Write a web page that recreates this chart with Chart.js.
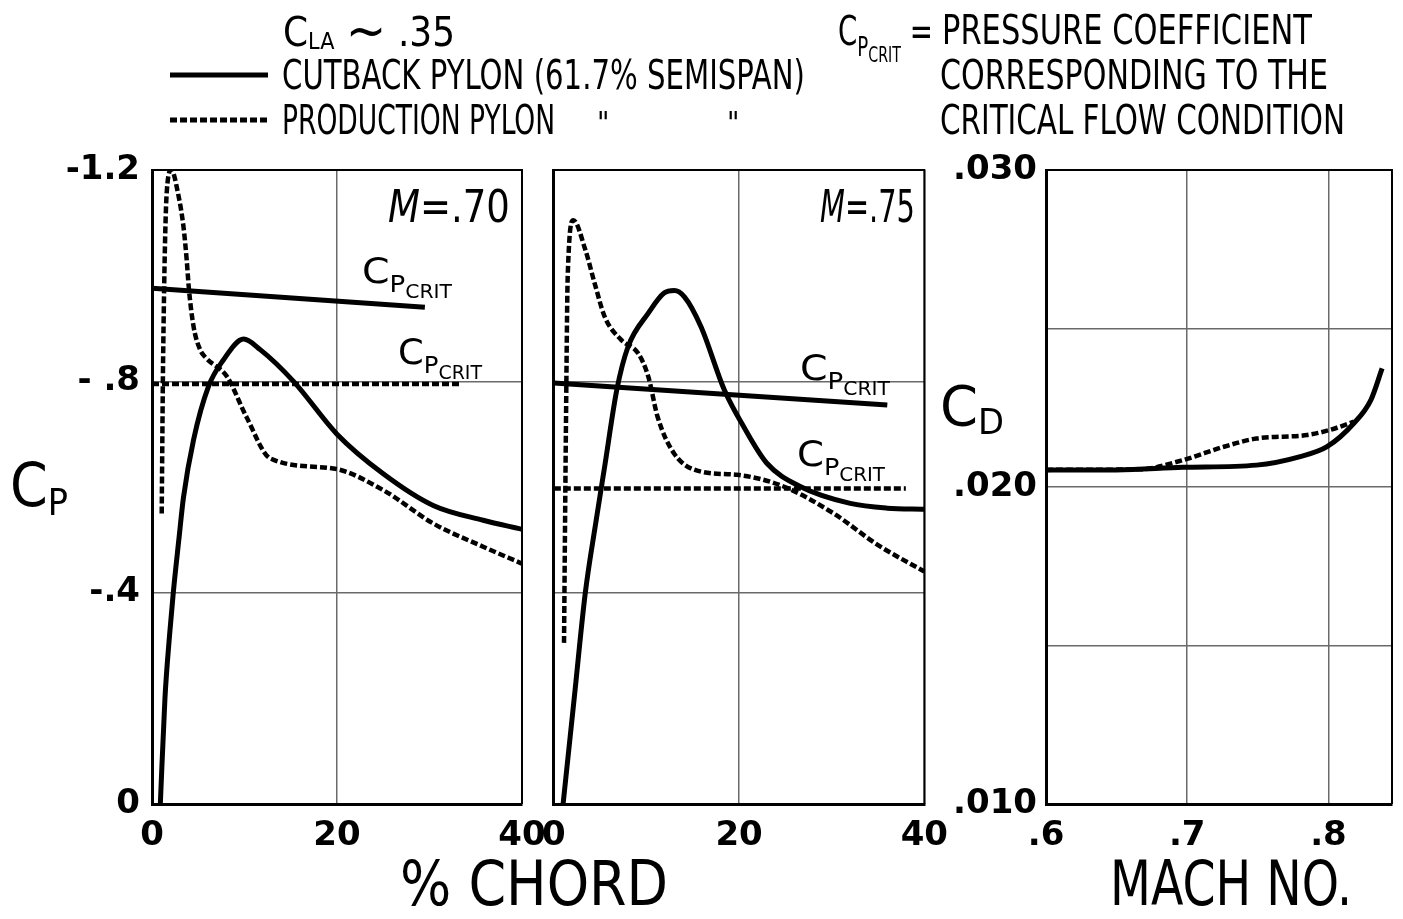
<!DOCTYPE html>
<html>
<head>
<meta charset="utf-8">
<script src="https://cdn.jsdelivr.net/npm/chart.js@4.4.1/dist/chart.umd.min.js"></script>
<style>
  body { margin: 0; background: #fff; width: 1403px; height: 919px; overflow: hidden; position: relative;
         font-family: "Liberation Sans Narrow", "DejaVu Sans Condensed", "Liberation Sans", sans-serif; color: #000; }
  canvas { position: absolute; }
  .t { position: absolute; white-space: nowrap; line-height: 1; transform-origin: 0 0; }
  .s1 { font-size: 0.66em; vertical-align: -0.4em; }
  .s2 { font-size: 0.78em; vertical-align: -0.3em; }
  .ax { font-size: 0.62em; vertical-align: -0.25em; }
  .la { font-size: 0.58em; vertical-align: -0.12em; }
  .tl { font-size: 1.35em; vertical-align: -0.05em; line-height: 0; }
  svg { position: absolute; left: 0; top: 0; }
</style>
</head>
<body>
<canvas id="chartA" width="560" height="750" style="left:0;top:130px"></canvas>
<canvas id="chartB" width="430" height="750" style="left:530px;top:130px"></canvas>
<canvas id="chartC" width="503" height="750" style="left:900px;top:130px"></canvas>
<svg width="1403" height="150">
  <line x1="170" y1="75" x2="268" y2="75" stroke="#000" stroke-width="5"/>
  <line x1="170" y1="120" x2="268" y2="120" stroke="#000" stroke-width="5" stroke-dasharray="7 3"/>
</svg>
<div id="labels"></div>
<script>
(function () {
    "use strict";

    // M = .70 panel
    const m70CutbackX = [0.9, 1.4, 1.9, 2.3, 2.9, 3.4, 4.5, 6.1, 7.7, 9.9, 11.7, 15.3, 20, 25, 30.4, 35.8, 40];
    const m70CutbackCp = [0, -0.2, -0.32, -0.4, -0.5, -0.58, -0.69, -0.79, -0.84, -0.88, -0.86, -0.8, -0.7, -0.625, -0.565, -0.537, -0.52];
    const m70ProductionX = [1.05, 1.2, 1.6, 2.1, 2.8, 3.4, 3.75, 4.0, 4.5, 5.2, 5.8, 8.1, 10.2, 12.8, 19.6, 25, 30.4, 35.8, 40];
    const m70ProductionCp = [-0.55, -0.84, -1.16, -1.2, -1.157, -1.093, -1.03, -0.973, -0.903, -0.86, -0.845, -0.809, -0.733, -0.654, -0.635, -0.594, -0.531, -0.487, -0.455];
    const m70CritCutbackX = [0, 29.5];
    const m70CritCutbackCp = [-0.976, -0.94];
    const m70CritProductionX = [0, 33.3];
    const m70CritProductionCp = [-0.795, -0.795];

    // M = .75 panel
    const m75CutbackX = [1.0, 2.2, 3.4, 4.6, 5.5, 6.8, 8.0, 10.2, 11.9, 13.0, 14.1, 15.9, 18.4, 20.5, 23, 26.6, 32, 36, 40];
    const m75CutbackCp = [0, -0.2, -0.4, -0.54, -0.64, -0.784, -0.865, -0.929, -0.967, -0.972, -0.96, -0.903, -0.784, -0.714, -0.645, -0.601, -0.569, -0.56, -0.558];
    const m75ProductionX = [1.1, 1.3, 1.5, 2.1, 3.4, 4.4, 5.5, 7.3, 9.1, 10.2, 11.2, 13, 15.9, 19.8, 24.8, 30.2, 35, 40];
    const m75ProductionCp = [-0.305, -0.7, -1.0, -1.105, -1.049, -0.986, -0.922, -0.878, -0.853, -0.809, -0.733, -0.663, -0.629, -0.623, -0.601, -0.55, -0.49, -0.44];
    const m75CritCutbackX = [0, 36];
    const m75CritCutbackCp = [-0.797, -0.755];
    const m75CritProductionX = [0, 38];
    const m75CritProductionCp = [-0.597, -0.597];

    // drag vs Mach
    const machCutback = [0.6, 0.65, 0.697, 0.749, 0.78, 0.799, 0.818, 0.83, 0.838];
    const cdCutback = [0.02054, 0.02054, 0.02062, 0.02069, 0.02096, 0.02127, 0.02201, 0.02274, 0.02374];
    const machProduction = [0.6, 0.667, 0.697, 0.726, 0.749, 0.785, 0.801, 0.818];
    const cdProduction = [0.02054, 0.02056, 0.02085, 0.02127, 0.02153, 0.02164, 0.0218, 0.02206];

    // ticks
    const chordTicks = [0, 20, 40];
    const chordTickLabels = ["0", "20", "40"];
    const cpTicks = [-1.2, -0.8, -0.4, 0];
    const cpTickLabels = ["-1.2", "- .8", "-.4", "0"];
    const machTicks = [0.6, 0.7, 0.8];
    const machTickLabels = [".6", ".7", ".8"];
    const cdTicks = [0.010, 0.015, 0.020, 0.025, 0.030];
    const cdTickLabels = [".010", "", ".020", "", ".030"];

    const tickFont = { family: "DejaVu Sans", weight: "bold", size: 34 };

    const zip = (xs, ys) => xs.map((x, i) => ({ x: x, y: ys[i] }));

    const solid = (data) => ({
        data: data,
        borderColor: "#000",
        borderWidth: 5,
        pointRadius: 0,
        fill: false,
        cubicInterpolationMode: "monotone",
    });
    const dashed = (data) => Object.assign(solid(data), { borderDash: [7, 3], borderWidth: 4.5 });

    // top and right edges of each plot box
    const framePlugin = {
        id: "frame",
        afterDraw(chart) {
            const { ctx, chartArea: a } = chart;
            ctx.save();
            ctx.strokeStyle = "#000";
            ctx.lineWidth = 2;
            ctx.beginPath();
            ctx.moveTo(a.left, a.top);
            ctx.lineTo(a.right, a.top);
            ctx.lineTo(a.right, a.bottom);
            ctx.stroke();
            ctx.restore();
        },
    };

    function axis(opts) {
        return {
            type: "linear",
            min: opts.min,
            max: opts.max,
            reverse: !!opts.reverse,
            afterBuildTicks: (s) => { s.ticks = opts.ticks.map((v) => ({ value: v })); },
            afterFit: (s) => { if (opts.width !== undefined) s.width = opts.width; if (opts.height !== undefined) s.height = opts.height; },
            ticks: {
                display: opts.showLabels !== false,
                callback: (v, i) => opts.labels[i],
                font: tickFont,
                color: "#000",
                padding: opts.padding,
                autoSkip: false,
                maxRotation: 0,
            },
            grid: { color: "#6a6a6a", lineWidth: 1.5, drawTicks: false },
            border: { color: "#000", width: 3 },
        };
    }

    function panel(id, datasets, xAxis, yAxis, padding) {
        return new Chart(document.getElementById(id), {
            type: "line",
            data: { datasets: datasets },
            options: {
                responsive: false,
                animation: false,
                layout: { padding: padding },
                plugins: { legend: { display: false }, tooltip: { enabled: false } },
                scales: { x: xAxis, y: yAxis },
            },
            plugins: [framePlugin],
        });
    }

    panel("chartA", [
        solid(zip(m70CutbackX, m70CutbackCp)),
        dashed(zip(m70ProductionX, m70ProductionCp)),
        solid(zip(m70CritCutbackX, m70CritCutbackCp)),
        dashed(zip(m70CritProductionX, m70CritProductionCp)),
    ],
        axis({ min: 0, max: 40, ticks: chordTicks, labels: chordTickLabels, height: 76, padding: 12 }),
        axis({ min: -1.2, max: 0, reverse: true, ticks: cpTicks, labels: cpTickLabels, width: 152, padding: 12 }),
        { top: 40, right: 38, left: 0, bottom: 0 });

    panel("chartB", [
        solid(zip(m75CutbackX, m75CutbackCp)),
        dashed(zip(m75ProductionX, m75ProductionCp)),
        solid(zip(m75CritCutbackX, m75CritCutbackCp)),
        dashed(zip(m75CritProductionX, m75CritProductionCp)),
    ],
        axis({ min: 0, max: 40, ticks: chordTicks, labels: chordTickLabels, height: 76, padding: 12 }),
        axis({ min: -1.2, max: 0, reverse: true, ticks: cpTicks, labels: cpTickLabels, width: 12, padding: 0, showLabels: false }),
        { top: 40, right: 35, left: 10, bottom: 0 });

    panel("chartC", [
        solid(zip(machCutback, cdCutback)),
        dashed(zip(machProduction, cdProduction)),
    ],
        axis({ min: 0.6, max: 0.845, ticks: machTicks, labels: machTickLabels, height: 76, padding: 12 }),
        axis({ min: 0.010, max: 0.030, ticks: cdTicks, labels: cdTickLabels, width: 146, padding: 9 }),
        { top: 40, right: 11, left: 0, bottom: 0 });

    // text: [html, left, cap top, font size, target width]
    const crit = "C<span class='s1'>P<span class='s2'>CRIT</span></span>";
    const texts = [
        ["C<span class='la'>LA</span> <span class='tl'>~</span> .35", 283, 17, 40, 172],
        ["CUTBACK PYLON (61.7% SEMISPAN)", 282, 60, 40, 523],
        ["PRODUCTION PYLON", 282, 105, 40, 273],
        ["&quot;", 597, 112, 30, 0],
        ["&quot;", 727, 112, 30, 0],
        [crit + " =", 838, 16, 40, 95],
        ["PRESSURE COEFFICIENT", 942, 15, 40, 370],
        ["CORRESPONDING TO THE", 940, 60, 40, 388],
        ["CRITICAL FLOW CONDITION", 940, 105, 40, 405],
        ["<i>M</i>=.70", 388, 190, 44, 122],
        ["<i>M</i>=.75", 820, 190, 44, 95],
        [crit, 362, 257, 36, 90],
        [crit, 398, 338, 36, 84],
        [crit, 800, 354, 36, 90],
        [crit, 797, 440, 36, 88],
        ["C<span class='ax'>P</span>", 10, 462, 60, 58],
        ["C<span class='ax'>D</span>", 940, 385, 56, 64],
        ["% CHORD", 400, 860, 62, 268],
        ["MACH NO.", 1110, 860, 62, 242],
    ];

    const holder = document.getElementById("labels");
    texts.forEach(([html, left, capTop, size, width]) => {
        const el = document.createElement("div");
        el.className = "t";
        el.innerHTML = html;
        el.style.fontSize = size + "px";
        el.style.left = left + "px";
        el.style.top = (capTop - 0.12 * size) + "px";
        holder.appendChild(el);
        if (width) {
            const w = el.getBoundingClientRect().width;
            el.style.transform = "scaleX(" + (width / w).toFixed(3) + ")";
        }
    });
})();
</script>
</body>
</html>
